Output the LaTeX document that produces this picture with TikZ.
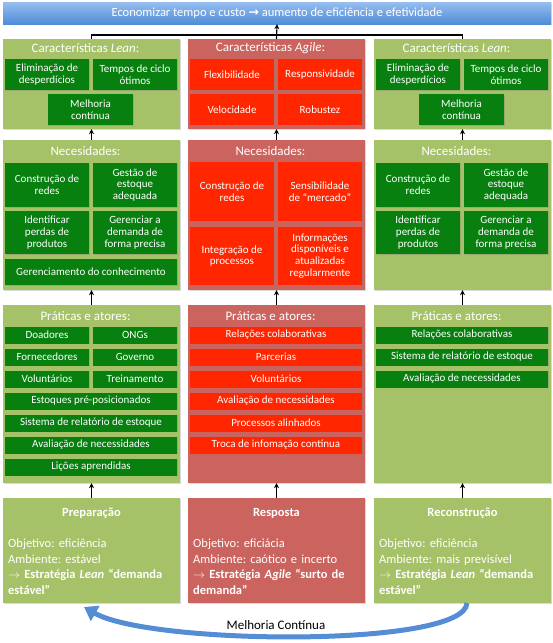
\documentclass[tikz,border=0pt]{standalone}
\usepackage{fontspec}
\setmainfont{Carlito}
\newfontfamily\arrfont{DejaVu Sans}
\newcommand\thickarr{{\arrfont\bfseries →}}
\usetikzlibrary{arrows.meta,shadows}
\definecolor{lgreen}{RGB}{166,194,104}
\definecolor{dgreen}{RGB}{8,128,16}
\definecolor{lred}{RGB}{203,99,94}
\definecolor{bred}{RGB}{255,38,0}
\definecolor{bluetop}{RGB}{150,190,240}
\definecolor{bluebot}{RGB}{80,140,215}
\definecolor{arrowblue}{RGB}{84,141,212}
\frenchspacing
\begin{document}
\begin{tikzpicture}[x=1pt,y=-1pt,
  panel/.style={draw=none, inner sep=0pt, drop shadow={opacity=0.3,shadow xshift=1pt,shadow yshift=-1pt}},
  gpanel/.style={panel, fill=lgreen},
  rpanel/.style={panel, fill=lred},
  cell/.style={inner sep=0pt, text=white, align=center, font=\fontsize{11}{11.7}\selectfont, drop shadow={opacity=0.35,shadow xshift=0.8pt,shadow yshift=-0.8pt}},
  gcell/.style={cell, fill=dgreen},
  rcell/.style={cell, fill=bred},
  ttl/.style={text=white, font=\fontsize{13}{15}\selectfont, inner sep=0pt},
  btitle/.style={text=white, font=\bfseries\fontsize{12.5}{15}\selectfont, inner sep=0pt},
  body/.style={text=white, font=\frenchspacing\fontsize{12.5}{15.5}\selectfont, text width=167pt, align=left, inner sep=0pt, anchor=north west},
  link/.style={line width=1.1pt, draw=black},
  up/.style={link, -{Stealth[length=5pt,width=5pt]}},
  hw/.style={minimum width=84pt},
  fw/.style={minimum width=172pt},
]
\useasboundingbox (0,0) rectangle (553,643);

% banner
\node[draw=none, top color=bluetop, bottom color=bluebot, minimum width=548pt, minimum height=22pt, inner sep=0pt, text=white, font=\fontsize{12.5}{15}\selectfont, drop shadow={opacity=0.3,shadow xshift=1pt,shadow yshift=-1pt}] (banner) at (277,13) {Economizar tempo e custo \thickarr{} aumento de eficiência e efetividade};

% ===== Section 1 =====
\node[gpanel, minimum width=177pt, minimum height=90pt] (l1) at (91.5,84) {};
\node[rpanel, minimum width=177pt, minimum height=90pt] (m1) at (276.5,84) {};
\node[gpanel, minimum width=177pt, minimum height=90pt] (r1) at (462.5,84) {};
\node[ttl] (l1t) at (85.5,48) {Características \textit{Lean}:};
\node[ttl] (m1t) at (270.5,48) {Características \textit{Agile}:};
\node[ttl] (r1t) at (456.5,48) {Características \textit{Lean}:};
% left
\node[gcell, hw, minimum height=31pt] (l1a) at (47,74.5) {Eliminação de\\desperdícios};
\node[gcell, hw, minimum height=31pt] (l1b) at (135,74.5) {Tempos de ciclo\\ótimos};
\node[gcell, minimum width=85pt, minimum height=31pt] (l1c) at (90.5,109.5) {Melhoria\\contínua};
% middle
\node[rcell, hw, minimum height=31pt] (m1a) at (232,74.5) {Flexibilidade};
\node[rcell, hw, minimum height=31pt] (m1b) at (320,74.5) {Responsividade};
\node[rcell, hw, minimum height=31pt] (m1c) at (232,109.5) {Velocidade};
\node[rcell, hw, minimum height=31pt] (m1d) at (320,109.5) {Robustez};
% right
\node[gcell, hw, minimum height=31pt] (r1a) at (418,74.5) {Eliminação de\\desperdícios};
\node[gcell, hw, minimum height=31pt] (r1b) at (506,74.5) {Tempos de ciclo\\ótimos};
\node[gcell, minimum width=85pt, minimum height=31pt] (r1c) at (461.5,109.5) {Melhoria\\contínua};

% ===== Section 2 =====
\node[gpanel, minimum width=177pt, minimum height=150pt] (l2) at (91.5,215) {};
\node[rpanel, minimum width=177pt, minimum height=150pt] (m2) at (276.5,215) {};
\node[gpanel, minimum width=177pt, minimum height=150pt] (r2) at (462.5,215) {};
\node[ttl] (l2t) at (85.5,151) {Necesidades:};
\node[ttl] (m2t) at (270.5,151) {Necesidades:};
\node[ttl] (r2t) at (456.5,151) {Necesidades:};
% left
\node[gcell, hw, minimum height=44pt] (l2a) at (47,185) {Construção de\\redes};
\node[gcell, hw, minimum height=44pt] (l2b) at (135,185) {Gestão de\\estoque\\adequada};
\node[gcell, hw, minimum height=43pt] (l2c) at (47,232.5) {Identificar\\perdas de\\produtos};
\node[gcell, hw, minimum height=43pt] (l2d) at (135,232.5) {Gerenciar a\\demanda de\\forma precisa};
\node[gcell, fw, minimum height=26pt] (l2e) at (91,272) {Gerenciamento do conhecimento};
% middle
\node[rcell, hw, minimum height=59pt] (m2a) at (232,191.5) {Construção de\\redes};
\node[rcell, hw, minimum height=59pt] (m2b) at (320,191.5) {Sensibilidade\\de “mercado”};
\node[rcell, hw, minimum height=58pt] (m2c) at (232,256) {Integração de\\processos};
\node[rcell, hw, minimum height=58pt] (m2d) at (320,256) {Informações\\disponíveis e\\atualizadas\\regularmente};
% right
\node[gcell, hw, minimum height=44pt] (r2a) at (418,185) {Construção de\\redes};
\node[gcell, hw, minimum height=44pt] (r2b) at (506,185) {Gestão de\\estoque\\adequada};
\node[gcell, hw, minimum height=43pt] (r2c) at (418,232.5) {Identificar\\perdas de\\produtos};
\node[gcell, hw, minimum height=43pt] (r2d) at (506,232.5) {Gerenciar a\\demanda de\\forma precisa};

% ===== Section 3 =====
\node[gpanel, minimum width=177pt, minimum height=178pt] (l3) at (91.5,394) {};
\node[rpanel, minimum width=177pt, minimum height=178pt] (m3) at (276.5,394) {};
\node[gpanel, minimum width=177pt, minimum height=178pt] (r3) at (462.5,394) {};
\node[ttl] (l3t) at (85.5,316) {Práticas e atores:};
\node[ttl] (m3t) at (270.5,316) {Práticas e atores:};
\node[ttl] (r3t) at (456.5,316) {Práticas e atores:};
% left
\node[gcell, hw, minimum height=17pt] (l3a) at (47,335) {Doadores};
\node[gcell, hw, minimum height=17pt] (l3b) at (135,335) {ONGs};
\node[gcell, hw, minimum height=17pt] (l3c) at (47,357) {Fornecedores};
\node[gcell, hw, minimum height=17pt] (l3d) at (135,357) {Governo};
\node[gcell, hw, minimum height=17pt] (l3e) at (47,379) {Voluntários};
\node[gcell, hw, minimum height=17pt] (l3f) at (135,379) {Treinamento};
\node[gcell, fw, minimum height=17pt] (l3g) at (91,401) {Estoques pré-posicionados};
\node[gcell, fw, minimum height=17pt] (l3h) at (91,423) {Sistema de relatório de estoque};
\node[gcell, fw, minimum height=17pt] (l3i) at (91,445) {Avaliação de necessidades};
\node[gcell, fw, minimum height=17pt] (l3j) at (91,467) {Lições aprendidas};
% middle
\node[rcell, fw, minimum height=17pt] (m3a) at (276,335) {Relações colaborativas};
\node[rcell, fw, minimum height=17pt] (m3b) at (276,357) {Parcerias};
\node[rcell, fw, minimum height=17pt] (m3c) at (276,379) {Voluntários};
\node[rcell, fw, minimum height=17pt] (m3d) at (276,401) {Avaliação de necessidades};
\node[rcell, fw, minimum height=17pt] (m3e) at (276,423) {Processos alinhados};
\node[rcell, fw, minimum height=17pt] (m3f) at (276,445) {Troca de infomação contínua};
% right
\node[gcell, fw, minimum height=17pt] (r3a) at (462,335) {Relações colaborativas};
\node[gcell, fw, minimum height=17pt] (r3b) at (462,357) {Sistema de relatório de estoque};
\node[gcell, fw, minimum height=17pt] (r3c) at (462,379) {Avaliação de necessidades};

% ===== Section 4 =====
\node[gpanel, minimum width=177pt, minimum height=105pt] (l4) at (91.5,550.5) {};
\node[rpanel, minimum width=177pt, minimum height=105pt] (m4) at (276.5,550.5) {};
\node[gpanel, minimum width=177pt, minimum height=105pt] (r4) at (462.5,550.5) {};
\node[btitle] (l4t) at (91.5,513) {Preparação};
\node[btitle] (m4t) at (276.5,513) {Resposta};
\node[btitle] (r4t) at (462.5,513) {Reconstrução};
\node[body] (l4b) at (8,539) {Objetivo: eficiência\\Ambiente: estável\\\makebox[\linewidth][s]{\bfseries $\rightarrow$ Estratégia \textit{Lean} “demanda}\\\textbf{estável”}};
\node[body] (m4b) at (193,539) {Objetivo: eficiácia\\Ambiente: caótico e incerto\\\makebox[\linewidth][s]{\bfseries $\rightarrow$ Estratégia \textit{Agile} “surto de}\\\textbf{demanda”}};
\node[body] (r4b) at (379,539) {Objetivo: eficiência\\Ambiente: mais previsível\\\makebox[\linewidth][s]{\bfseries $\rightarrow$ Estratégia \textit{Lean} “demanda}\\\textbf{estável”}};

% ===== connectors =====
\coordinate (hy) at (0,35);
\draw[link] (l1.north) -- (l1.north |- hy) -- (r1.north |- hy) -- (r1.north);
\draw[up] (m1.north) -- (banner.south);
\foreach \c in {l,m,r}{
  \draw[up] (\c2.north) -- (\c1.south);
  \draw[up] (\c3.north) -- (\c2.south);
  \draw[up] (\c4.north) -- (\c3.south);
}

% curved arrow
\coordinate (cs) at (467,603);
\coordinate (ce) at (84,607);
\draw[line width=5pt, arrowblue, -{Triangle[length=13pt,width=17pt]}] (cs) .. controls (465,648) and (150,645) .. (ce);
\node[font=\fontsize{13}{15}\selectfont, inner sep=0pt] (mc) at (276,625) {Melhoria Contínua};
\end{tikzpicture}
\end{document}
